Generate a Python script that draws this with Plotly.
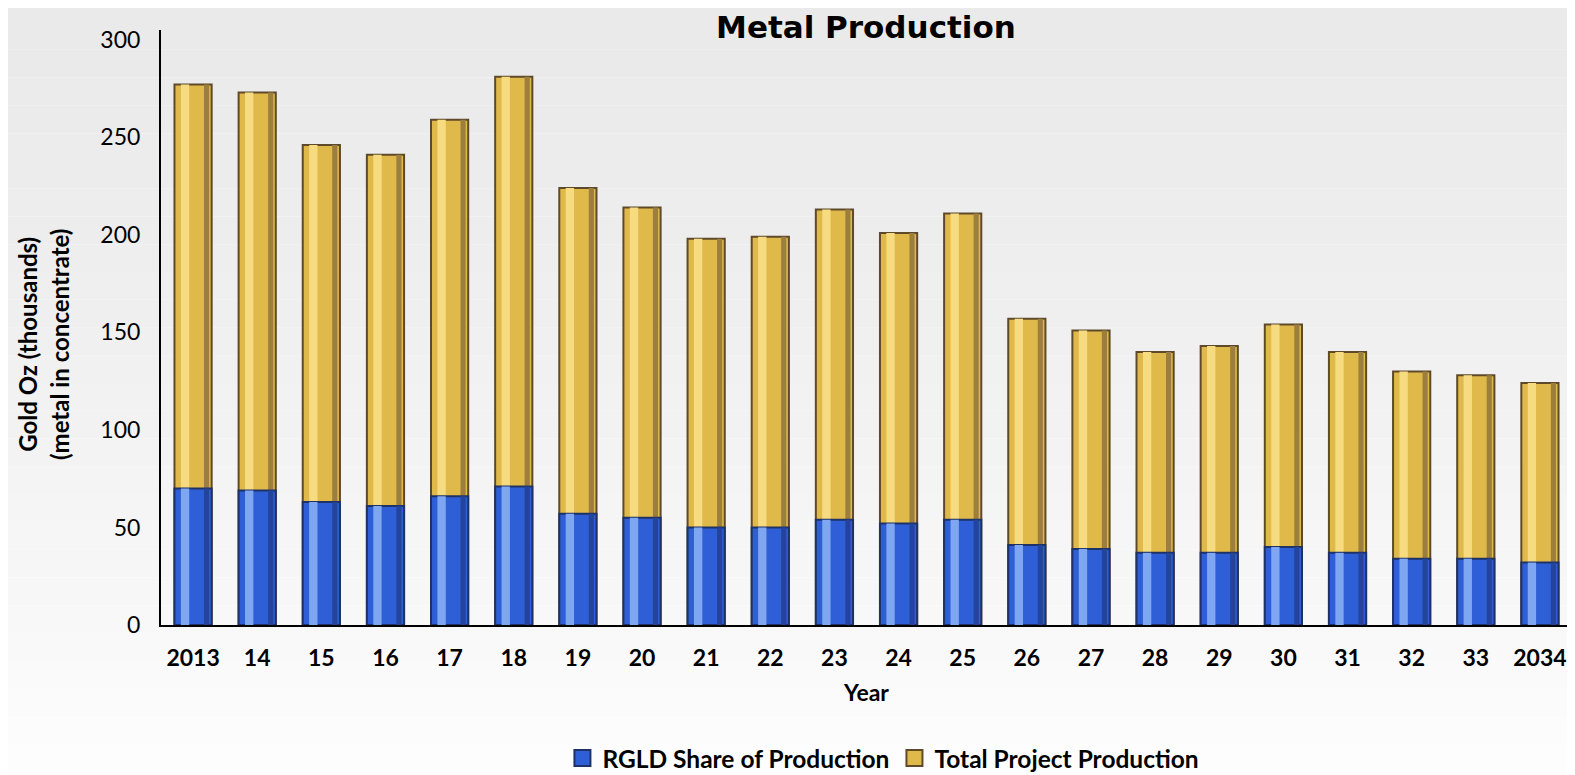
import plotly.graph_objects as go

years = ["2013", "14", "15", "16", "17", "18", "19", "20", "21", "22", "23",
         "24", "25", "26", "27", "28", "29", "30", "31", "32", "33", "2034"]
total_production = [277, 273, 246, 241, 259, 281, 224, 214, 198, 199, 213,
                    201, 211, 157, 151, 140, 143, 154, 140, 130, 128, 124]
rgld_share = [70, 69, 63, 61, 66, 71, 57, 55, 50, 50, 54,
              52, 54, 41, 39, 37, 37, 40, 37, 34, 34, 32]
y_ticks = [0, 50, 100, 150, 200, 250, 300]

FONT = "Lato, 'Open Sans', sans-serif"
BW = 0.58
GOLD, GOLD_LIGHT, GOLD_DARK, GOLD_EDGE = "#E0B94B", "#F7DB80", "#9C7E3E", "#5E4A2A"
BLUE, BLUE_LIGHT, BLUE_DARK, BLUE_EDGE = "#2F5FD6", "#7FA6F0", "#23449A", "#1E3266"

fig = go.Figure()

# Total project production (gold)
fig.add_trace(go.Bar(
    x=years, y=total_production, name="Total Project Production", showlegend=False,
    width=BW, offset=-BW / 2,
    marker=dict(color=GOLD, line=dict(color=GOLD_EDGE, width=2)),
))
fig.add_trace(go.Bar(
    x=years, y=total_production, showlegend=False, hoverinfo="skip",
    width=0.13, offset=-0.19,
    marker=dict(color=GOLD_LIGHT, line=dict(width=0)),
))
fig.add_trace(go.Bar(
    x=years, y=total_production, showlegend=False, hoverinfo="skip",
    width=0.08, offset=0.17,
    marker=dict(color=GOLD_DARK, line=dict(width=0)),
))
# RGLD share (blue)
fig.add_trace(go.Bar(
    x=years, y=rgld_share, name="RGLD Share of Production", showlegend=False,
    width=BW, offset=-BW / 2,
    marker=dict(color=BLUE, line=dict(color=BLUE_EDGE, width=2)),
))
fig.add_trace(go.Bar(
    x=years, y=rgld_share, showlegend=False, hoverinfo="skip",
    width=0.13, offset=-0.19,
    marker=dict(color=BLUE_LIGHT, line=dict(width=0)),
))
fig.add_trace(go.Bar(
    x=years, y=rgld_share, showlegend=False, hoverinfo="skip",
    width=0.08, offset=0.17,
    marker=dict(color=BLUE_DARK, line=dict(width=0)),
))

# legend entries with larger square swatches
fig.add_trace(go.Scatter(
    x=[None], y=[None], mode="markers", name="<b>RGLD Share of Production</b>",
    marker=dict(symbol="square", size=20, color=BLUE, line=dict(color=BLUE_EDGE, width=2)),
))
fig.add_trace(go.Scatter(
    x=[None], y=[None], mode="markers", name="<b>Total Project Production</b>",
    marker=dict(symbol="square", size=20, color=GOLD, line=dict(color=GOLD_EDGE, width=2)),
))

# background gradient (light grey top -> white bottom)
shapes = []
n = 30
for i in range(n):
    t = i / (n - 1)
    c = int(234 + (255 - 234) * t ** 1.3)
    shapes.append(dict(
        type="rect", xref="paper", yref="paper", layer="below",
        x0=-0.2, x1=1.1,
        y0=1.06 - (i + 1) * (1.4 / n), y1=1.06 - i * (1.4 / n),
        fillcolor=f"rgb({c},{c},{c})", line=dict(width=0),
    ))

fig.update_layout(
    width=1567, height=767,
    barmode="overlay",
    paper_bgcolor="#ffffff",
    plot_bgcolor="rgba(0,0,0,0)",
    margin=dict(l=153, r=3, t=22, b=150),
    shapes=shapes,
    title=dict(text="<b>Metal Production</b>", x=0.5475, xanchor="center",
               y=0.975, yanchor="middle",
               font=dict(family="DejaVu Sans, sans-serif", size=31, color="#000")),
    font=dict(family=FONT, color="#000"),
    showlegend=True,
    legend=dict(orientation="h", x=0.512, xanchor="center",
                yref="container", y=0.022, yanchor="middle",
                font=dict(family=FONT, size=24.5, color="#000"),
                itemsizing="trace",
                traceorder="normal", bgcolor="rgba(0,0,0,0)"),
    xaxis=dict(
        type="category", showgrid=False, showline=True, linecolor="#000",
        linewidth=2, ticks="", tickfont=dict(family=FONT, size=23, color="#000"),
        tickprefix="<b>", ticksuffix="</b>", ticklabelstandoff=11,
        title=dict(text="<b>Year</b>", font=dict(family=FONT, size=23, color="#000"),
                   standoff=15),
        range=[-0.5, 21.5],
    ),
    yaxis=dict(
        range=[0, 305], tickvals=y_ticks, showgrid=False, zeroline=False,
        showline=True, linecolor="#000", linewidth=2, ticks="",
        tickfont=dict(family=FONT, size=23, color="#000"),
        tickprefix="<b>", ticksuffix="</b>", ticklabelstandoff=14,
    ),
    annotations=[dict(
        text="<b>Gold Oz (thousands)<br>(metal in concentrate)</b>",
        xref="paper", yref="paper", x=-0.0835, y=0.471, textangle=-90,
        showarrow=False, xanchor="center", yanchor="middle",
        font=dict(family=FONT, size=24, color="#000"),
    )],
)

fig.write_html("out.html")
